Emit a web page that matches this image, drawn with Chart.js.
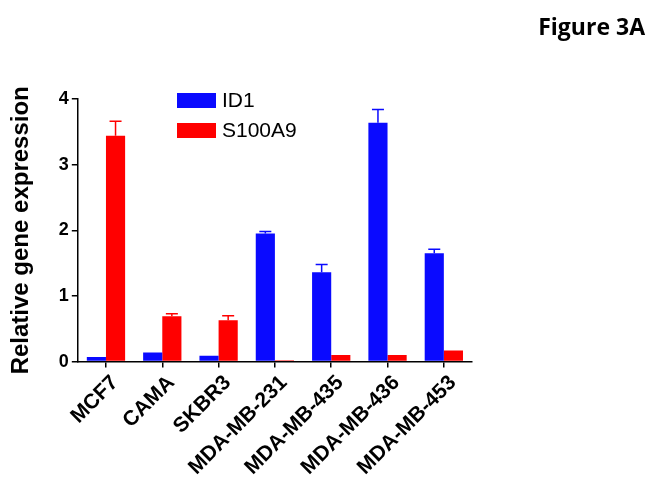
<!DOCTYPE html>
<html>
<head>
<meta charset="utf-8">
<script src="https://cdn.jsdelivr.net/npm/chart.js@4"></script>
<style>
  html, body { margin: 0; padding: 0; background: #fff; }
  #wrap { width: 654px; height: 484px; }
</style>
</head>
<body>
<div id="wrap"><canvas id="bars" width="654" height="484"></canvas></div>
<script>
// data
var cellLines = ['MCF7', 'CAMA', 'SKBR3', 'MDA-MB-231', 'MDA-MB-435', 'MDA-MB-436', 'MDA-MB-453'];
var id1 = [0.07, 0.14, 0.09, 1.95, 1.36, 3.64, 1.65];
var id1Err = [0, 0, 0, 0.03, 0.12, 0.20, 0.06];
var s100a9 = [3.44, 0.69, 0.63, 0.02, 0.10, 0.10, 0.17];
var s100a9Err = [0.22, 0.04, 0.07, 0, 0, 0, 0];
var yTicks = [0, 1, 2, 3, 4];

var errs = [id1Err, s100a9Err];

// upper error bars, drawn on top of bars
var errorBars = {
	id: 'errorBars',
	afterDatasetsDraw: function(chart) {
		var ctx = chart.ctx;
		var y = chart.scales.y;
		chart.data.datasets.forEach(function(ds, di) {
			var meta = chart.getDatasetMeta(di);
			meta.data.forEach(function(bar, i) {
				var e = errs[di][i];
				if (!e) return;
				var top = y.getPixelForValue(ds.data[i] + e);
				ctx.save();
				ctx.strokeStyle = ds.backgroundColor;
				ctx.lineWidth = 1.5;
				ctx.beginPath();
				ctx.moveTo(bar.x, bar.y);
				ctx.lineTo(bar.x, top);
				ctx.moveTo(bar.x - 6, top);
				ctx.lineTo(bar.x + 6, top);
				ctx.stroke();
				ctx.restore();
			});
		});
	}
};

// legend boxes inside the plot + figure label
var extras = {
	id: 'extras',
	afterDraw: function(chart) {
		var ctx = chart.ctx;
		ctx.save();
		chart.data.datasets.forEach(function(ds, di) {
			var top = 93 + di * 30;
			ctx.fillStyle = ds.backgroundColor;
			ctx.fillRect(177, top, 39, 15);
			ctx.fillStyle = '#000';
			ctx.font = '21px "Liberation Sans", Arial, sans-serif';
			ctx.textBaseline = 'middle';
			ctx.fillText(ds.label, 222, top + 8);
		});
		ctx.font = 'bold 23px "Open Sans", sans-serif';
		ctx.textAlign = 'right';
		ctx.textBaseline = 'middle';
		ctx.fillText('Figure 3A', 645, 28);
		ctx.restore();
	}
};

var ctx = document.getElementById('bars');
var myChart = new Chart(ctx, {
	type: 'bar',
	data: {
		labels: cellLines,
		datasets: [{
			label: 'ID1',
			data: id1,
			backgroundColor: '#0a0aff'
		}, {
			label: 'S100A9',
			data: s100a9,
			backgroundColor: '#ff0000'
		}]
	},
	plugins: [errorBars, extras],
	options: {
		responsive: false,
		animation: false,
		barPercentage: 1,
		categoryPercentage: 0.68,
		layout: { padding: { top: 99, right: 182, left: 7, bottom: 1 } },
		plugins: {
			legend: { display: false },
			tooltip: { enabled: false }
		},
		scales: {
			x: {
				grid: { display: true, drawOnChartArea: false, offset: false, color: '#000', tickLength: 6, lineWidth: 1.5 },
				border: { color: '#000', width: 1.5 },
				ticks: {
					color: '#000',
					minRotation: 45,
					maxRotation: 45,
					padding: 3,
					labelOffset: 9,
					font: { family: '"Liberation Sans", Arial, sans-serif', size: 21, weight: 'bold' }
				}
			},
			y: {
				min: 0,
				max: 4,
				afterBuildTicks: function(axis) {
					axis.ticks = yTicks.map(function(v) { return { value: v }; });
				},
				grid: { display: true, drawOnChartArea: false, color: '#000', tickLength: 6, lineWidth: 1.5 },
				border: { color: '#000', width: 1.5 },
				ticks: {
					color: '#000',
					padding: 3,
					font: { family: '"Liberation Sans", Arial, sans-serif', size: 18, weight: 'bold' }
				},
				title: {
					display: true,
					text: 'Relative gene expression',
					color: '#000',
					padding: { top: 0, bottom: 20 },
					font: { family: '"Liberation Sans", Arial, sans-serif', size: 24, weight: 'bold' }
				}
			}
		}
	}
});
</script>
</body>
</html>
